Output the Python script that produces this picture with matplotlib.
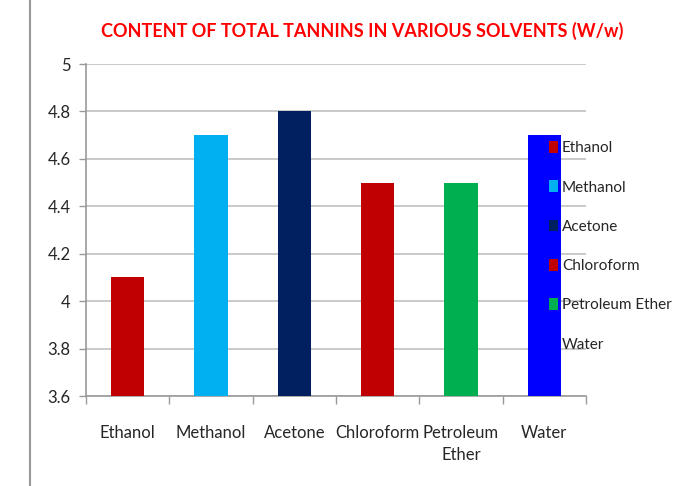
import matplotlib
matplotlib.use("Agg")
import matplotlib.pyplot as plt
from matplotlib.lines import Line2D

plt.rcParams['font.family'] = ['Lato', 'DejaVu Sans']

# data
solvents = ["Ethanol", "Methanol", "Acetone", "Chloroform", "Petroleum Ether", "Water"]
tick_labels = ["Ethanol", "Methanol", "Acetone", "Chloroform", "Petroleum\nEther", "Water"]
tannins = [4.1, 4.7, 4.8, 4.5, 4.5, 4.7]
bar_colors = ["#C00000", "#00B0F0", "#002060", "#C00000", "#00B050", "#0000FF"]

fig = plt.figure(figsize=(6.8, 4.86), dpi=100)
ax = fig.add_axes([86/680, 1 - 396/486, 500/680, 332/486])

x = range(len(solvents))
bars = ax.bar(x, tannins, width=0.4, color=bar_colors, zorder=3)

ax.set_ylim(3.6, 5.0)
ax.set_xlim(-0.5, len(solvents) - 0.5)
ax.set_yticks([3.6, 3.8, 4.0, 4.2, 4.4, 4.6, 4.8, 5.0])
ax.set_yticklabels(["3.6", "3.8", "4", "4.2", "4.4", "4.6", "4.8", "5"])
ax.yaxis.grid(True, color="#c0c0c0", linewidth=1.2, zorder=0)

# category labels centred, ticks on the boundaries
ax.set_xticks(list(x))
ax.set_xticklabels(tick_labels, linespacing=1.45)
ax.tick_params(axis="x", length=0, pad=21, labelsize=12, labelcolor="#262626")
ax.set_xticks([i - 0.5 for i in range(len(solvents) + 1)], minor=True)
ax.tick_params(axis="x", which="minor", length=6, color="#999999", width=1)
ax.tick_params(axis="y", length=5, color="#999999", width=1, labelsize=12,
               labelcolor="#262626", pad=6)

for s in ["top", "right"]:
    ax.spines[s].set_visible(False)
for s in ["left", "bottom"]:
    ax.spines[s].set_color("#999999")
    ax.spines[s].set_linewidth(1.2)

fig.text(362/680, 1 - 31/486, "CONTENT OF TOTAL TANNINS IN VARIOUS SOLVENTS (W/w)",
         color="#FF0000", fontsize=13, fontweight="bold", ha="center", va="center")

leg = fig.legend(bars, solvents, loc="upper left", bbox_to_anchor=(549/680, 1 - 141/486),
                 frameon=False, fontsize=11, handlelength=0.6, handleheight=0.82,
                 handletextpad=0.25, labelspacing=1.64, borderpad=0, borderaxespad=0)
for t in leg.get_texts():
    t.set_color("#262626")

# border line on the left of the slide
fig.add_artist(Line2D([30/680, 30/680], [0, 1], color="#999999", linewidth=1.5))

fig.savefig("out.png", dpi=100)
